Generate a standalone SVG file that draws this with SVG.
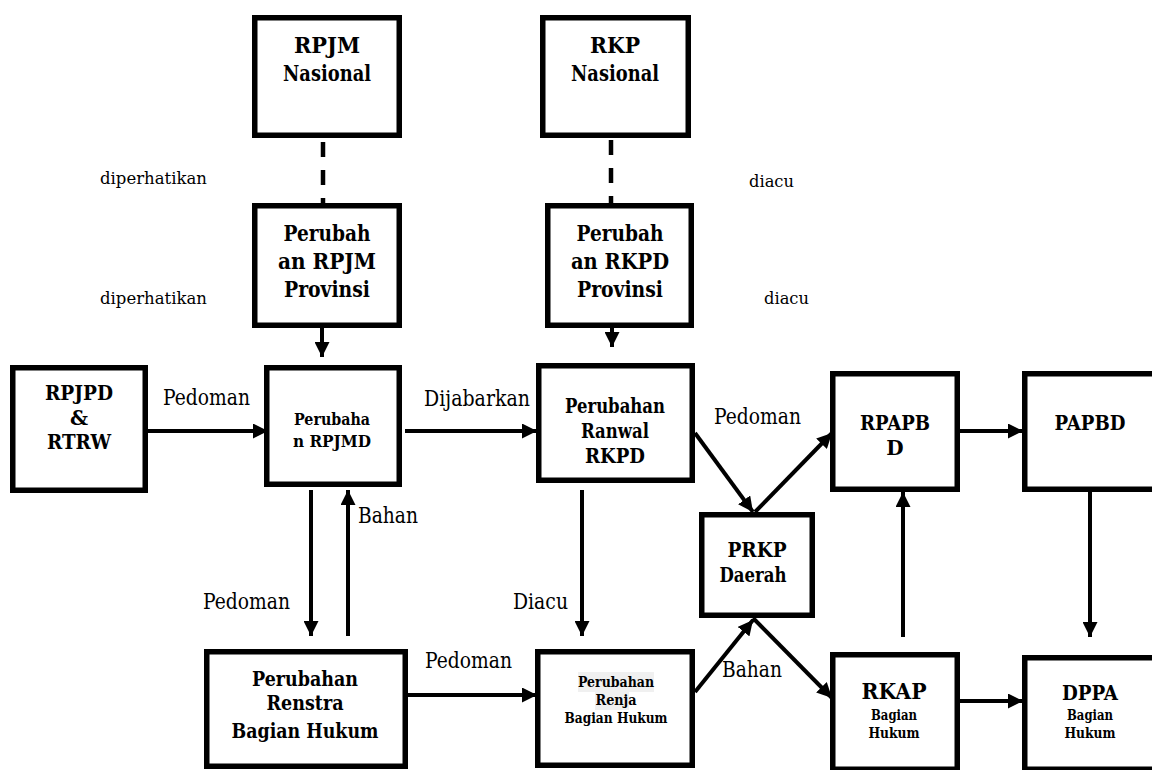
<svg xmlns="http://www.w3.org/2000/svg" width="1152" height="770" viewBox="0 0 1152 770" font-family="DejaVu Serif, serif">
<style>
.box{fill:#fff;stroke:#000;stroke-width:5.5}
.t{font-weight:bold;text-anchor:middle;fill:#000}
.l{font-size:23px;fill:#000}
.s{font-size:17px;fill:#000}
.c{stroke:#000;stroke-width:4;fill:none}
.d{stroke:#000;stroke-width:4.5;fill:none;stroke-dasharray:15 13}
</style>
<defs>
<marker id="ah" viewBox="0 0 15 15" refX="15" refY="7.5" markerWidth="15" markerHeight="15" markerUnits="userSpaceOnUse" orient="auto">
<path d="M0,0 L15,7.5 L0,15 z" fill="#000"/>
</marker>
</defs>
<rect width="1152" height="770" fill="#fff"/>

<g id="connectors">
<line class="d" x1="323" y1="142" x2="323" y2="203"/>
<line class="d" x1="611" y1="140" x2="611" y2="203"/>
<line class="c" x1="322" y1="328" x2="322" y2="357" marker-end="url(#ah)"/>
<line class="c" x1="612" y1="328" x2="612" y2="347" marker-end="url(#ah)"/>
<line class="c" x1="139" y1="431" x2="268" y2="431" marker-end="url(#ah)"/>
<line class="c" x1="405" y1="431" x2="537" y2="431" marker-end="url(#ah)"/>
<line class="c" x1="695" y1="433" x2="753" y2="512" marker-end="url(#ah)"/>
<line class="c" x1="755" y1="512" x2="832" y2="433" marker-end="url(#ah)"/>
<line class="c" x1="960" y1="431" x2="1023" y2="431" marker-end="url(#ah)"/>
<line class="c" x1="1090" y1="492" x2="1090" y2="637" marker-end="url(#ah)"/>
<line class="c" x1="903" y1="637" x2="903" y2="492" marker-end="url(#ah)"/>
<line class="c" x1="960" y1="701" x2="1023" y2="701" marker-end="url(#ah)"/>
<line class="c" x1="753" y1="618" x2="832" y2="698" marker-end="url(#ah)"/>
<line class="c" x1="695" y1="692" x2="753" y2="620" marker-end="url(#ah)"/>
<line class="c" x1="408" y1="695" x2="537" y2="695" marker-end="url(#ah)"/>
<line class="c" x1="311" y1="490" x2="311" y2="636" marker-end="url(#ah)"/>
<line class="c" x1="348" y1="636" x2="348" y2="490" marker-end="url(#ah)"/>
<line class="c" x1="582" y1="490" x2="582" y2="636" marker-end="url(#ah)"/>
</g>

<g id="labels">
<text class="s" x="100" y="184" textLength="107" lengthAdjust="spacingAndGlyphs">diperhatikan</text>
<text class="s" x="100" y="304" textLength="107" lengthAdjust="spacingAndGlyphs">diperhatikan</text>
<text class="s" x="749" y="187" textLength="45" lengthAdjust="spacingAndGlyphs">diacu</text>
<text class="s" x="764" y="304" textLength="45" lengthAdjust="spacingAndGlyphs">diacu</text>
<text class="l" x="163" y="405" textLength="87" lengthAdjust="spacingAndGlyphs">Pedoman</text>
<text class="l" x="424" y="406" textLength="106" lengthAdjust="spacingAndGlyphs">Dijabarkan</text>
<text class="l" x="714" y="424" textLength="87" lengthAdjust="spacingAndGlyphs">Pedoman</text>
<text class="l" x="358" y="523" textLength="60" lengthAdjust="spacingAndGlyphs">Bahan</text>
<text class="l" x="203" y="609" textLength="87" lengthAdjust="spacingAndGlyphs">Pedoman</text>
<text class="l" x="513" y="609" textLength="55" lengthAdjust="spacingAndGlyphs">Diacu</text>
<text class="l" x="425" y="668" textLength="87" lengthAdjust="spacingAndGlyphs">Pedoman</text>
<text class="l" x="722" y="677" textLength="60" lengthAdjust="spacingAndGlyphs">Bahan</text>
</g>

<g id="rpjm-nasional">
<rect class="box" x="254.75" y="17.75" width="144.5" height="117.5"/>
<text class="t" font-size="22" x="327" y="53" textLength="66" lengthAdjust="spacingAndGlyphs">RPJM</text>
<text class="t" font-size="22" x="327" y="81" textLength="88" lengthAdjust="spacingAndGlyphs">Nasional</text>
</g>
<g id="rkp-nasional">
<rect class="box" x="542.75" y="17.75" width="145.5" height="117.5"/>
<text class="t" font-size="22" x="615" y="53" textLength="50" lengthAdjust="spacingAndGlyphs">RKP</text>
<text class="t" font-size="22" x="615" y="81" textLength="88" lengthAdjust="spacingAndGlyphs">Nasional</text>
</g>
<g id="perubahan-rpjm-provinsi">
<rect class="box" x="254.75" y="205.75" width="144.5" height="119.5"/>
<text class="t" font-size="22" x="327" y="241" textLength="87" lengthAdjust="spacingAndGlyphs">Perubah</text>
<text class="t" font-size="22" x="327" y="269" textLength="98" lengthAdjust="spacingAndGlyphs">an RPJM</text>
<text class="t" font-size="22" x="327" y="297" textLength="86" lengthAdjust="spacingAndGlyphs">Provinsi</text>
</g>
<g id="perubahan-rkpd-provinsi">
<rect class="box" x="547.75" y="205.75" width="143.5" height="119.5"/>
<text class="t" font-size="22" x="620" y="241" textLength="87" lengthAdjust="spacingAndGlyphs">Perubah</text>
<text class="t" font-size="22" x="620" y="269" textLength="98" lengthAdjust="spacingAndGlyphs">an RKPD</text>
<text class="t" font-size="22" x="620" y="297" textLength="86" lengthAdjust="spacingAndGlyphs">Provinsi</text>
</g>
<g id="rpjpd-rtrw">
<rect class="box" x="12.75" y="367.75" width="132.5" height="122.5"/>
<text class="t" font-size="20" x="79" y="400" textLength="68" lengthAdjust="spacingAndGlyphs">RPJPD</text>
<text class="t" font-size="20" x="79" y="425">&amp;</text>
<text class="t" font-size="20" x="79" y="449" textLength="64" lengthAdjust="spacingAndGlyphs">RTRW</text>
</g>
<g id="perubahan-rpjmd">
<rect class="box" x="266.75" y="367.75" width="132.5" height="116.5"/>
<text class="t" font-size="16" x="332" y="425" textLength="76" lengthAdjust="spacingAndGlyphs">Perubaha</text>
<text class="t" font-size="16" x="332" y="447" textLength="78" lengthAdjust="spacingAndGlyphs">n RPJMD</text>
</g>
<g id="perubahan-ranwal-rkpd">
<rect class="box" x="538.75" y="365.75" width="153.5" height="114.5"/>
<text class="t" font-size="20" x="615" y="413" textLength="100" lengthAdjust="spacingAndGlyphs">Perubahan</text>
<text class="t" font-size="20" x="615" y="438" textLength="68" lengthAdjust="spacingAndGlyphs">Ranwal</text>
<text class="t" font-size="20" x="615" y="463" textLength="60" lengthAdjust="spacingAndGlyphs">RKPD</text>
</g>
<g id="rpapbd">
<rect class="box" x="832.75" y="373.75" width="124.5" height="115.5"/>
<text class="t" font-size="20" x="895" y="430" textLength="70" lengthAdjust="spacingAndGlyphs">RPAPB</text>
<text class="t" font-size="20" x="895" y="455">D</text>
</g>
<g id="papbd">
<rect class="box" x="1024.75" y="373.75" width="132.5" height="115.5"/>
<text class="t" font-size="20" x="1090" y="430" textLength="71" lengthAdjust="spacingAndGlyphs">PAPBD</text>
</g>
<g id="prkp-daerah">
<rect class="box" x="701.75" y="514.75" width="110.5" height="100.5"/>
<text class="t" font-size="20" x="757" y="557" textLength="59" lengthAdjust="spacingAndGlyphs">PRKP</text>
<text class="t" font-size="20" x="753" y="582" textLength="67" lengthAdjust="spacingAndGlyphs">Daerah</text>
</g>
<g id="perubahan-renstra">
<rect class="box" x="206.75" y="651.75" width="198.5" height="114.5"/>
<text class="t" font-size="21" x="305" y="686" textLength="106" lengthAdjust="spacingAndGlyphs">Perubahan</text>
<text class="t" font-size="21" x="305" y="710" textLength="77" lengthAdjust="spacingAndGlyphs">Renstra</text>
<text class="t" font-size="21" x="305" y="738" textLength="147" lengthAdjust="spacingAndGlyphs">Bagian Hukum</text>
</g>
<g id="perubahan-renja">
<rect class="box" x="537.75" y="651.75" width="154.5" height="113.5"/>
<rect x="578" y="672" width="76" height="20" fill="#f0f0f0"/>
<rect x="595" y="692" width="34" height="18" fill="#f0f0f0"/>
<text class="t" font-size="15" x="616" y="687" textLength="76" lengthAdjust="spacingAndGlyphs">Perubahan</text>
<text class="t" font-size="15" x="616" y="705" textLength="41" lengthAdjust="spacingAndGlyphs">Renja</text>
<text class="t" font-size="15" x="616" y="723" textLength="103" lengthAdjust="spacingAndGlyphs">Bagian Hukum</text>
</g>
<g id="rkap">
<rect class="box" x="832.75" y="654.75" width="124.5" height="114.5"/>
<text class="t" font-size="23" x="894" y="699" textLength="65" lengthAdjust="spacingAndGlyphs">RKAP</text>
<text class="t" font-size="14" x="894" y="720" textLength="46" lengthAdjust="spacingAndGlyphs">Bagian</text>
<text class="t" font-size="14" x="894" y="738" textLength="51" lengthAdjust="spacingAndGlyphs">Hukum</text>
</g>
<g id="dppa">
<rect class="box" x="1024.75" y="657.75" width="132.5" height="111.5"/>
<text class="t" font-size="20" x="1090" y="700" textLength="56" lengthAdjust="spacingAndGlyphs">DPPA</text>
<text class="t" font-size="14" x="1090" y="720" textLength="46" lengthAdjust="spacingAndGlyphs">Bagian</text>
<text class="t" font-size="14" x="1090" y="738" textLength="51" lengthAdjust="spacingAndGlyphs">Hukum</text>
</g>
</svg>
